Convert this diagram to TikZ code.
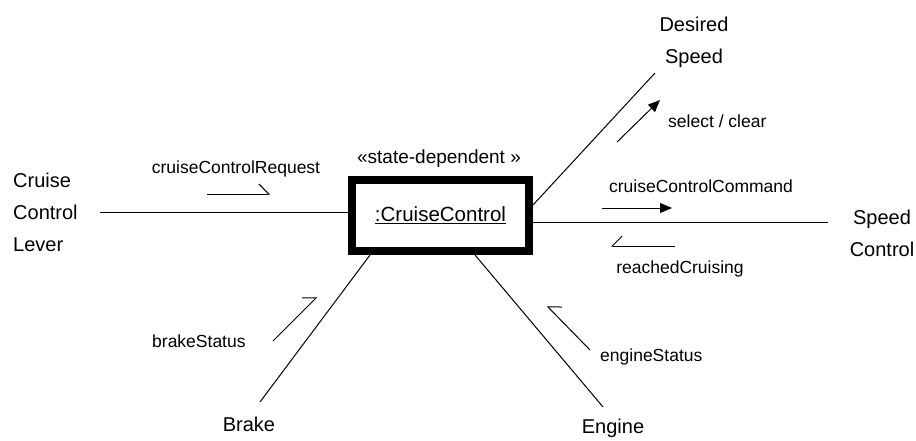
\documentclass[tikz,border=0pt]{standalone}
\usepackage{fontspec}
\setmainfont{Liberation Sans}
\usetikzlibrary{arrows.meta}
\begin{document}
\begin{tikzpicture}[x=1pt,y=-1pt,
  entity/.style={font=\fontsize{20}{32}\selectfont, inner sep=0pt, align=center},
  msg/.style={font=\fontsize{17.5}{20}\selectfont, inner sep=0pt},
  link/.style={line width=1pt},
  flowfill/.style={line width=1pt, -{Triangle[length=12pt,width=10pt]}},
  flowl/.style={line width=1pt, -{Straight Barb[left,length=10pt,width=20pt]}},
  flowr/.style={line width=1pt, -{Straight Barb[right,length=10pt,width=20pt]}},
]
\useasboundingbox (0,0) rectangle (916,441);

% external objects
\node[entity, align=left, anchor=west] (lever) at (13,212) {Cruise\\Control\\Lever};
\node[entity] (desired) at (694,42) {Desired\\Speed};
\node[entity] (speedctl) at (882,233) {Speed\\Control};
\node[entity] (brake) at (249,424) {Brake};
\node[entity] (engine) at (613,428) {Engine};

% the state-dependent control object
\node[draw, line width=8pt, minimum width=177pt, minimum height=71pt, inner sep=0pt,
      font=\fontsize{20.5}{24}\selectfont] (box) at (440.5,215.5) {\underline{:CruiseControl}};
\node[msg, font=\fontsize{19}{22}\selectfont] (stereo) at (439,159) {«state-dependent »};

% link ends next to the external objects
\coordinate (leverEnd) at (100,212);
\coordinate (desiredEnd) at (655,73);
\coordinate (speedEnd) at (828,222);
\coordinate (brakeEnd) at (260,402);
\coordinate (engineEnd) at (603,407);

\draw[link] (leverEnd) -- (box.west |- leverEnd);
\draw[link] (box.east |- 0,205) -- (desiredEnd);
\draw[link] (box.east |- speedEnd) -- (speedEnd);
\draw[link] (box.south -| 370,0) -- (brakeEnd);
\draw[link] (box.south -| 475,0) -- (engineEnd);

% message labels
\node[msg] (reqlbl) at (236,169) {cruiseControlRequest};
\node[msg, anchor=west] (sellbl) at (668,121) {select / clear};
\node[msg] (cmdlbl) at (701,186) {cruiseControlCommand};
\node[msg] (reachlbl) at (680,269) {reachedCruising};
\node[msg, anchor=west] (brklbl) at (152,341) {brakeStatus};
\node[msg, anchor=west] (englbl) at (600,357) {engineStatus};

% message arrows
\coordinate (reqA) at (207,194);   \coordinate (reqB) at (270,194);
\coordinate (selA) at (617,142);   \coordinate (selB) at (660,100);
\coordinate (cmdA) at (602,208);   \coordinate (cmdB) at (672,208);
\coordinate (reachA) at (675,246); \coordinate (reachB) at (611,246);
\coordinate (brkA) at (273,341);   \coordinate (brkB) at (317,297);
\coordinate (engA) at (590,350);   \coordinate (engB) at (547,306);

\draw[flowl] (reqA) -- (reqB);
\draw[flowfill] (selA) -- (selB);
\draw[flowfill] (cmdA) -- (cmdB);
\draw[flowr] (reachA) -- (reachB);
\draw[flowl] (brkA) -- (brkB);
\draw[flowr] (engA) -- (engB);
\end{tikzpicture}
\end{document}
